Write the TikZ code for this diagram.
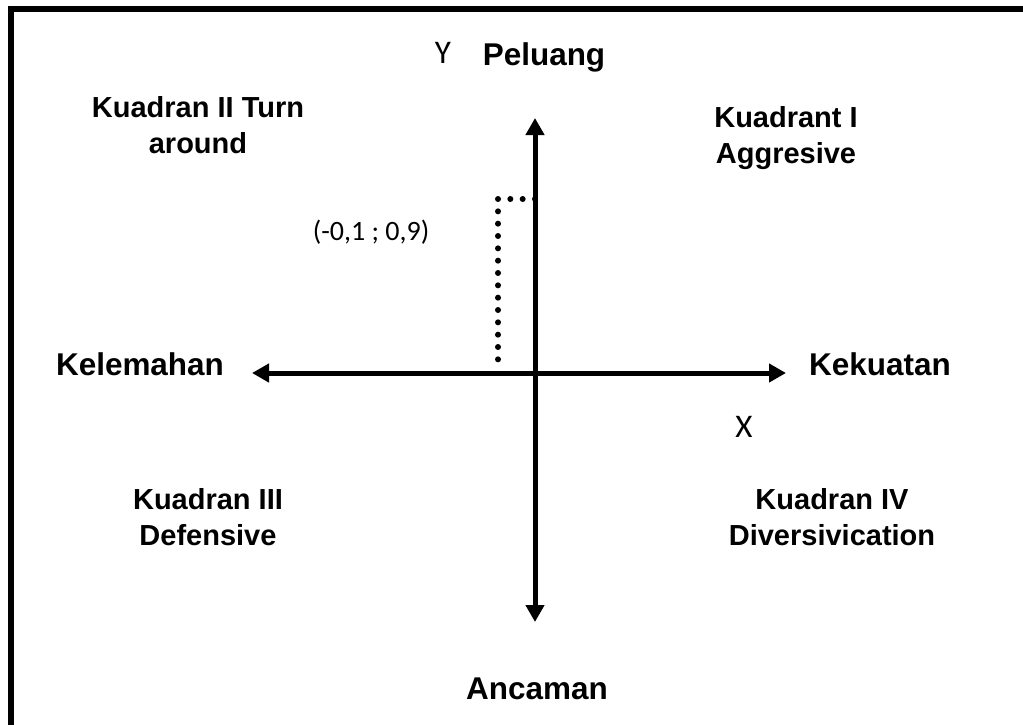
\documentclass[tikz,border=0pt]{standalone}
\usepackage{fontspec}
\setmainfont{Liberation Sans}
\newfontfamily\calibri{Carlito}
\usetikzlibrary{arrows.meta}

\begin{document}
\begin{tikzpicture}[x=0.75pt,y=-0.75pt,
  axis/.style={line width=3.75pt,
    {Triangle[length=12.75pt,width=13.5pt]}-{Triangle[length=12.75pt,width=13.5pt]}},
  dots/.style={line width=4.5pt,line cap=round,dash pattern=on 0pt off 9.25pt},
  axislabel/.style={anchor=base,inner sep=0pt,font=\fontsize{23.6pt}{28pt}\selectfont\bfseries},
  quadlabel/.style={anchor=base,inner sep=0pt,align=center,
    font=\fontsize{21.75pt}{27pt}\selectfont\bfseries},
  letter/.style={anchor=base,inner sep=0pt,font=\fontsize{24.75pt}{28pt}\selectfont\calibri}]
\useasboundingbox (0,0) rectangle (1023,724);
\clip (0,0) rectangle (1023,724);
\fill[white] (0,0) rectangle (1023,724);
\draw[line width=4.5pt] (11,740) -- (11,9) -- (1040,9);

% axes
\coordinate (ytop) at (535,118);
\coordinate (ybot) at (535,622);
\coordinate (xleft) at (252,373);
\coordinate (xright) at (786,373);
\draw[axis] (xleft) -- (xright);
\draw[axis] (ybot) -- (ytop);

% position point
\coordinate (pt) at (498,199);
\coordinate (pty) at (535,199);
\coordinate (ptx) at (498,371);
\draw[dots] (pty) -- (pt) -- (ptx);
\node[anchor=base,inner sep=0pt,font=\fontsize{21pt}{24pt}\selectfont\calibri] (coord) at (371,240) {(-0,1 ; 0,9)};

% axis labels
\node[letter] (ylab) at (443,64) {Y};
\node[letter] (xlab) at (744,437) {X};
\node[axislabel] (peluang) at (544,65) {Peluang};
\node[axislabel] (ancaman) at (537,699) {Ancaman};
\node[axislabel] (kelemahan) at (140,375) {Kelemahan};
\node[axislabel] (kekuatan) at (880,375) {Kekuatan};

% quadrants
\node[quadlabel] (q2) at (198,153) {Kuadran II Turn\\around};
\node[quadlabel] (q1) at (786,163) {Kuadrant I\\Aggresive};
\node[quadlabel] (q3) at (208,545) {Kuadran III\\Defensive};
\node[quadlabel] (q4) at (832,545) {Kuadran IV\\Diversivication};
\end{tikzpicture}
\end{document}
